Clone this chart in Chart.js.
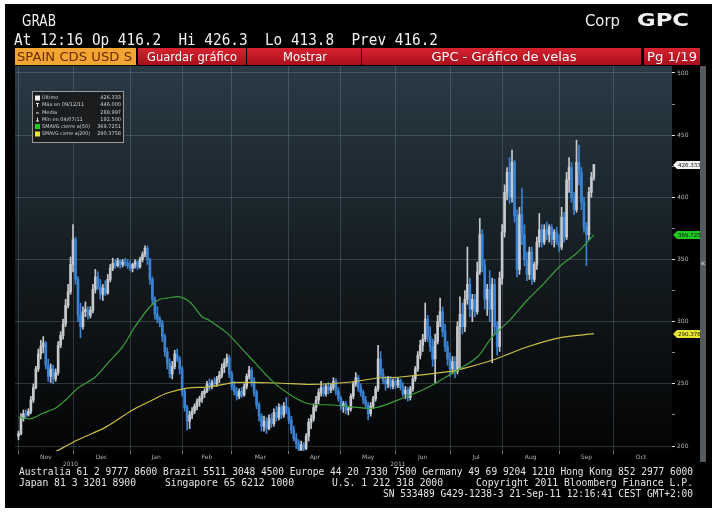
<!DOCTYPE html>
<html>
<head>
<meta charset="utf-8">
<script src="https://cdn.jsdelivr.net/npm/chart.js@4.4.1/dist/chart.umd.min.js"></script>
<style>
  html, body { margin: 0; padding: 0; background: #fff; }
  canvas { display: block; }
</style>
</head>
<body>
<canvas id="gpcChart" width="719" height="514"></canvas>
<script>
// trading days counted from Mon 1 Nov 2010 (index 0) to Wed 21 Sep 2011 (index 232)
const opens = [
  208,210,222,226,225,228,237,247,262,274,280,283,265,256,262,254,259,281,289,298,313,324, // Nov
  346,366,334,305,296,308,310,305,309,326,336,328,322,327,323,334,343,347,345,349,346,348,347, // Dec
  345,343,346,348,344,350,354,359,350,334,318,306,302,299,288,276,266,258,264,274,270, // Jan
  262,244,231,220,225,228,232,236,238,242,244,250,248,251,250,254,257,263,267,271, // Feb
  258,248,244,240,244,241,248,256,261,252,243,233,224,216,220,214,222,218,227,223,231,225,232, // Mar
  228,221,213,206,202,197,201,198,208,219,222,231,237,243,247,242,248,245,247,252,244, // Apr
  238,232,234,229,230,240,250,255,247,243,237,233,226,232,238,246,270,258,253,250,254,248, // May
  252,249,253,247,242,245,239,246,254,262,273,281,286,302,288,280,270,284,300,308,292,280, // Jun
  270,262,268,260,296,306,296,318,330,310,318,308,340,370,345,318,326,310,330,296,280, // Jul
  335,372,404,420,400,428,385,342,386,370,350,338,356,334,346,364,374,364,374,370,376,366,372, // Aug
  364,360,384,368,414,424,400,390,428,420,396,376,370,404,416.2 // Sep
];
const highs = [
  212,226,229,229,230,240,250,264,278,285,288,284,270,266,265,262,284,292,302,318,330,352,
  378,368,336,315,312,316,312,312,330,342,340,334,330,333,338,346,351,350,351,350,350,351,350,
  349,347,350,349,352,356,361,361,351,336,320,312,304,301,290,279,270,268,277,278,272,
  264,246,233,228,231,234,238,240,244,246,252,254,253,255,256,260,266,270,274,273,
  260,252,247,246,247,250,258,264,263,255,245,235,226,224,223,225,226,230,232,234,233,235,239,
  231,224,216,210,205,204,203,210,222,225,234,240,246,252,249,250,251,250,255,254,247,
  240,236,236,232,242,252,259,257,250,245,240,235,235,240,248,281,276,262,256,256,256,254,
  255,255,254,251,248,247,248,256,264,276,285,290,315,305,296,286,290,305,319,312,298,284,
  275,272,272,300,320,315,325,360,335,322,322,348,383,374,350,330,341,335,334,300,340,
  378,410,424,432,438,430,390,392,407,378,356,360,360,348,368,387,378,378,380,378,378,374,376,
  370,392,388,420,432,428,404,446,442,424,400,380,408,420,426.3
];
const lows = [
  205,209,220,223,224,226,235,246,260,270,275,262,252,251,250,252,257,279,286,296,311,322,
  340,330,300,287,294,304,302,303,307,323,326,318,317,321,322,332,341,343,344,343,344,345,343,
  341,340,343,342,343,348,352,346,330,314,302,299,296,284,272,262,255,254,262,268,258,
  240,228,213,214,222,226,229,232,235,239,243,245,246,248,248,251,255,259,264,255,
  245,241,237,238,239,240,246,254,248,240,230,220,212,212,210,213,215,216,220,221,222,223,226,
  218,210,204,198,192.5,195,194,197,204,214,220,228,234,240,240,240,242,243,245,241,236,
  229,227,226,225,228,238,248,244,240,234,230,221,224,230,236,244,255,250,245,247,246,246,
  246,247,245,240,238,236,237,244,252,260,270,276,284,284,276,264,251,282,296,288,276,265,
  256,258,255,258,262,290,292,314,304,300,304,306,338,340,310,305,300,267,290,273,276,
  330,368,398,395,396,380,336,338,362,345,333,334,330,332,342,360,360,362,366,364,362,360,362,
  356,358,364,366,404,396,386,388,410,390,372,345,366,400,413.8
];
const closes = [
  210,222,226,225,228,237,247,262,274,280,283,265,256,262,254,259,281,289,298,313,324,346,
  366,334,305,296,308,310,305,309,326,336,328,322,327,323,334,343,347,345,349,346,348,347,345,
  343,346,348,344,350,354,359,350,334,318,306,302,299,288,276,266,258,264,274,270,262,
  244,231,220,225,228,232,236,238,242,244,250,248,251,250,254,257,263,267,271,258,
  248,244,240,244,241,248,256,261,252,243,233,224,216,220,214,222,218,227,223,231,225,232,228,
  221,213,206,202,197,201,198,208,219,222,231,237,243,247,242,248,245,247,252,244,238,
  232,234,229,230,240,250,255,247,243,237,233,226,232,238,246,270,258,253,250,254,248,252,
  249,253,247,242,245,239,246,254,262,273,281,286,302,288,280,270,284,300,308,292,280,270,
  262,268,260,296,306,296,318,330,310,318,308,340,370,345,318,326,310,330,296,280,335,
  372,404,420,400,428,385,342,386,370,350,338,356,334,346,364,374,364,374,370,376,366,372,364,
  360,384,368,414,424,400,390,428,420,396,376,370,404,416.2,426.33
];

// moving averages at a few trading-day positions
const sma50Days = [0,5,10,15,19,24,31,36,42,47,53,57,60,65,69,74,77,84,93,103,111,117,127,143,155,165,175,185,191,198,205,212,218,225,232];
const sma50Vals = [223,222,226.5,230.5,237,246.6,255.5,266.7,280,296,312,318,319,320,316,304,301,291,272,251,239.5,234,233,230.5,238.6,247,258.7,271.6,287.7,301,317,331,344,355,369.73];
const sma200Days = [15,24,35,46,54,60,68,77,87,104,118,134,145,154,174,180,191,205,218,232];
const sma200Vals = [195.5,205,215,229,237,242.6,246.6,247.5,251,250.7,249.5,251.5,254.7,255.5,260,262.7,269,279.6,287,290.38];

const monthStarts = [0,22,45,66,86,109,130,152,174,195,218,240];
const monthMids = [11,33.5,55.5,76,97.5,119.5,141,163,184.5,206.5,229,251];
const monthLabels = ['Nov','Dec','Jan','Feb','Mar','Apr','May','Jun','Jul','Aug','Sep','Oct'];
const yearTicks = [21,153];
const yearLabels = ['2010','2011'];
const priceTicks = [200,225,250,275,300,325,350,375,400,425,450,475,500];

const legendLabels = ['Último','Máx en 09/12/11','Media','Mín en 04/07/11','SMAVG cierre a(50)','SMAVG cierre a(200)'];
const legendValues = ['426.333','446.000','288.997','192.500','369.7251','290.3758'];
const flagValues = [426.333, 369.725, 290.376];
const flagColors = ['#f2f2f2', '#20c820', '#e6e632'];

const upColor = '#c6cacf';
const downColor = '#3a82d2';
const gridColor = 'rgba(140,160,175,0.28)';
const candleColors = closes.map((c, i) => c >= opens[i] ? upColor : downColor);

function fitText(ctx, s, x, y, w, align) {
  const m = ctx.measureText(s).width;
  ctx.save();
  ctx.translate(x, y);
  ctx.scale(w / m, 1);
  ctx.textAlign = 'left';
  const x0 = align === 'right' ? -m : align === 'center' ? -m / 2 : 0;
  ctx.fillText(s, x0, 0);
  ctx.restore();
}

const terminalChrome = {
  id: 'terminalChrome',
  beforeDraw(chart) {
    const ctx = chart.ctx;
    const a = chart.chartArea;
    ctx.save();
    ctx.fillStyle = '#fff';
    ctx.fillRect(0, 0, 719, 514);
    ctx.fillStyle = '#000';
    ctx.fillRect(5, 4, 707, 504);

    const g = ctx.createLinearGradient(0, a.top, 0, a.bottom);
    g.addColorStop(0, '#2a3a45');
    g.addColorStop(0.3, '#1d2931');
    g.addColorStop(0.6, '#11171b');
    g.addColorStop(1, '#040404');
    ctx.fillStyle = g;
    ctx.fillRect(a.left, a.top, a.right - a.left, a.bottom - a.top);

    // header
    ctx.fillStyle = '#f0f0f0';
    ctx.font = '15px "DejaVu Sans"';
    fitText(ctx, 'GRAB', 22, 26, 34);
    fitText(ctx, 'Corp', 585, 26, 35);
    ctx.font = '15px "DejaVu Sans Mono"';
    fitText(ctx, 'At 12:16 Op 416.2  Hi 426.3  Lo 413.8  Prev 416.2', 14, 45, 424);
    ctx.font = 'bold 17px "DejaVu Sans"';
    fitText(ctx, 'GPC', 637, 26, 52);

    // tab bar
    ctx.fillStyle = '#f2a531';
    ctx.fillRect(15, 48, 121, 17);
    const rg = ctx.createLinearGradient(0, 48, 0, 65);
    rg.addColorStop(0, '#d82230');
    rg.addColorStop(1, '#a80f1b');
    ctx.fillStyle = rg;
    ctx.fillRect(138, 48, 108, 17);
    ctx.fillRect(247, 48, 114, 17);
    ctx.fillRect(362, 48, 279, 17);
    ctx.fillRect(644, 48, 56, 17);
    ctx.font = '12px "DejaVu Sans"';
    ctx.fillStyle = '#6a2a00';
    fitText(ctx, 'SPAIN CDS USD S', 17, 61, 115);
    ctx.fillStyle = '#ffffff';
    fitText(ctx, 'Guardar gráfico', 192, 61, 90, 'center');
    fitText(ctx, 'Mostrar', 305, 61, 44, 'center');
    fitText(ctx, 'GPC - Gráfico de velas', 504, 61, 145, 'center');
    fitText(ctx, 'Pg 1/19', 672, 61, 50, 'center');

    // scroll strip on the right
    ctx.fillStyle = '#555a5e';
    ctx.fillRect(700, 66, 6, 396);
    ctx.fillStyle = '#e0e0e0';
    ctx.font = '8px "DejaVu Sans"';
    ctx.textAlign = 'center';
    ctx.fillText('«', 703, 266);

    // footer
    ctx.fillStyle = '#e4e4e4';
    ctx.font = '11px "DejaVu Sans Mono"';
    fitText(ctx, 'Australia 61 2 9777 8600 Brazil 5511 3048 4500 Europe 44 20 7330 7500 Germany 49 69 9204 1210 Hong Kong 852 2977 6000', 19, 475, 674);
    fitText(ctx, 'Japan 81 3 3201 8900', 19, 486, 117);
    fitText(ctx, 'Singapore 65 6212 1000', 165, 486, 129);
    fitText(ctx, 'U.S. 1 212 318 2000', 332, 486, 111);
    fitText(ctx, 'Copyright 2011 Bloomberg Finance L.P.', 693, 486, 217, 'right');
    fitText(ctx, 'SN 533489 G429-1238-3 21-Sep-11 12:16:41 CEST GMT+2:00', 693, 497, 310, 'right');
    ctx.restore();
  },
  afterDraw(chart) {
    const ctx = chart.ctx;
    const x = chart.scales.x;
    const y = chart.scales.y;
    ctx.save();

    // month and year labels under the time axis
    ctx.fillStyle = '#b0b0b0';
    ctx.font = '6px "DejaVu Sans"';
    ctx.textAlign = 'center';
    ctx.textBaseline = 'middle';
    monthMids.forEach((d, i) => ctx.fillText(monthLabels[i], x.getPixelForValue(d), 457.5));
    yearTicks.forEach((d, i) => ctx.fillText(yearLabels[i], x.getPixelForValue(d), 464.5));

    // legend box
    ctx.fillStyle = '#1a1c1e';
    ctx.fillRect(32, 91, 92, 52);
    ctx.strokeStyle = '#9a9a9a';
    ctx.lineWidth = 1;
    ctx.strokeRect(32.5, 91.5, 91, 51);
    ctx.font = '5px "DejaVu Sans"';
    const rowY = [98, 105, 112.5, 119.5, 126.5, 134];
    legendLabels.forEach((lab, i) => {
      const ry = rowY[i];
      if (i === 0) { ctx.fillStyle = '#f0f0f0'; ctx.fillRect(35, ry - 2.5, 5, 5); }
      if (i === 1) { ctx.fillStyle = '#e0e0e0'; ctx.fillRect(37, ry - 2, 1, 4); ctx.fillRect(36, ry - 2, 3, 1); }
      if (i === 2) { ctx.fillStyle = '#e0e0e0'; ctx.fillRect(36, ry, 3, 1); }
      if (i === 3) { ctx.fillStyle = '#e0e0e0'; ctx.fillRect(37, ry - 2, 1, 4); ctx.fillRect(36, ry + 1, 3, 1); }
      if (i === 4) { ctx.fillStyle = '#22cc22'; ctx.fillRect(35, ry - 2.5, 5, 5); }
      if (i === 5) { ctx.fillStyle = '#e6e632'; ctx.fillRect(35, ry - 2.5, 5, 5); }
      ctx.fillStyle = '#cfd2d4';
      ctx.textAlign = 'left';
      const lw = Math.min(ctx.measureText(lab).width, 48);
      fitText(ctx, lab, 42, ry, lw);
      ctx.textAlign = 'right';
      ctx.fillText(legendValues[i], 121, ry);
    });

    // price flags on the right axis
    ctx.font = '5.5px "DejaVu Sans"';
    ctx.textAlign = 'left';
    flagValues.forEach((v, i) => {
      const py = Math.round(y.getPixelForValue(v));
      const x0 = chart.chartArea.right + 1;
      ctx.fillStyle = flagColors[i];
      ctx.beginPath();
      ctx.moveTo(x0, py);
      ctx.lineTo(x0 + 4, py - 4);
      ctx.lineTo(x0 + 27, py - 4);
      ctx.lineTo(x0 + 27, py + 4);
      ctx.lineTo(x0 + 4, py + 4);
      ctx.closePath();
      ctx.fill();
      ctx.fillStyle = '#111';
      ctx.fillText(v.toFixed(3), x0 + 5, py + 0.5);
    });
    ctx.restore();
  }
};

const ctx = document.getElementById('gpcChart').getContext('2d');
new Chart(ctx, {
  type: 'bar',
  data: {
    datasets: [
      {
        type: 'line',
        label: 'SMAVG cierre a(50)',
        data: sma50Days.map((d, i) => ({ x: d, y: sma50Vals[i] })),
        borderColor: '#3ba03a',
        borderWidth: 1.2,
        pointRadius: 0,
        tension: 0.3,
        order: 0
      },
      {
        type: 'line',
        label: 'SMAVG cierre a(200)',
        data: sma200Days.map((d, i) => ({ x: d, y: sma200Vals[i] })),
        borderColor: '#cbbf45',
        borderWidth: 1.2,
        pointRadius: 0,
        tension: 0.3,
        order: 1
      },
      {
        label: 'body',
        data: closes.map((c, i) => ({ x: i, y: [opens[i], c] })),
        backgroundColor: candleColors,
        barThickness: 2,
        minBarLength: 1,
        grouped: false,
        order: 2
      },
      {
        label: 'wick',
        data: closes.map((c, i) => ({ x: i, y: [lows[i], highs[i]] })),
        backgroundColor: candleColors,
        barThickness: 1,
        grouped: false,
        order: 3
      }
    ]
  },
  options: {
    responsive: false,
    animation: false,
    layout: { padding: { left: 15, top: 66, right: 17, bottom: 59 } },
    plugins: { legend: { display: false }, tooltip: { enabled: false } },
    scales: {
      x: {
        type: 'linear',
        position: 'bottom',
        min: -1.4,
        max: 263.5,
        offset: false,
        afterBuildTicks: s => { s.ticks = monthStarts.map(v => ({ value: v })); },
        afterFit: s => { s.height = 4; },
        ticks: { display: false },
        grid: { color: gridColor, tickColor: '#777', tickLength: 3, offset: false },
        border: { display: false }
      },
      y: {
        type: 'linear',
        position: 'right',
        min: 196,
        max: 505.6,
        afterBuildTicks: s => { s.ticks = priceTicks.map(v => ({ value: v })); },
        afterFit: s => { s.width = 30; },
        ticks: {
          padding: 2,
          color: '#b8b8b8', font: { size: 6, family: 'DejaVu Sans' },
          callback: v => (v % 50 === 0 ? String(v) : '')
        },
        grid: {
          color: c => (c.tick && c.tick.value % 50 === 0 ? gridColor : 'rgba(0,0,0,0)'),
          tickColor: c => (c.tick && c.tick.value % 50 === 0 ? '#e0e0e0' : '#888'),
          tickLength: 3
        },
        border: { display: false }
      }
    }
  },
  plugins: [terminalChrome]
});
</script>
</body>
</html>
